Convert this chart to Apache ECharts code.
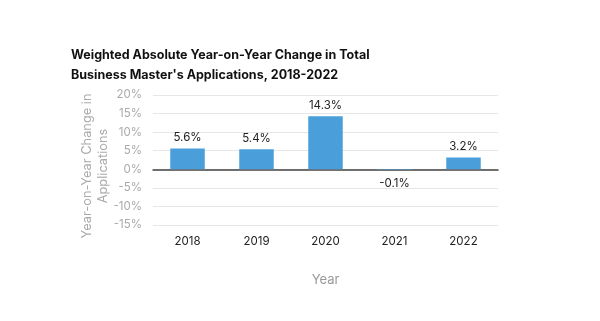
<!DOCTYPE html>
<html><head><meta charset="utf-8">
<script src="https://cdn.jsdelivr.net/npm/echarts@6/dist/echarts.min.js"></script>
<style>html,body{margin:0;padding:0;background:#fff}#c{width:600px;height:321px}</style>
</head><body><div id="c"></div>
<script>
const categories = ['2018','2019','2020','2021','2022'];
const values = [5.6, 5.4, 14.3, -0.1, 3.2];
const yTicks = { min: -15, max: 20, interval: 5 };

const chart = echarts.init(document.getElementById('c'), null, {renderer:'canvas'});
chart.setOption({
  animation: false,
  backgroundColor: '#fff',
  title: {
    text: "Weighted Absolute Year-on-Year Change in Total\nBusiness Master's Applications, 2018-2022",
    left: 66, top: 40,
    textStyle: { fontFamily: 'Inter', fontWeight: 'bold', fontSize: 12.5, color: '#111', lineHeight: 20 }
  },
  grid: { left: 153, right: 102, top: 95, bottom: 96 },
  xAxis: {
    type: 'category', data: categories,
    name: 'Year', nameLocation: 'middle', nameGap: 49,
    nameTextStyle: { fontFamily: 'Inter', fontSize: 13, color: '#999' },
    axisLine: { onZero: true, lineStyle: { color: '#444', width: 1.5 } },
    axisTick: { show: false },
    axisLabel: { fontFamily: 'Inter', fontSize: 11.5, color: '#222', margin: 11 },
    position: 'bottom'
  },
  yAxis: {
    type: 'value', min: yTicks.min, max: yTicks.max, interval: yTicks.interval,
    name: 'Year-on-Year Change in\nApplications', nameLocation: 'middle', nameGap: 42,
    nameMoveOverlap: false,
    nameTextStyle: { fontFamily: 'Inter', fontSize: 12.8, color: '#aaa', lineHeight: 16, padding: [0, 12, 0, 0] },
    axisLabel: { fontFamily: 'Inter', fontSize: 11.5, color: '#aaa', formatter: '{value}%', margin: 11 },
    splitLine: { lineStyle: { color: '#e6e6e6' } },
    axisLine: { show: false }, axisTick: { show: false }
  },
  series: [{
    type: 'bar',
    data: values.map(v => ({ value: v, label: { position: v < 0 ? 'bottom' : 'top', distance: v < 0 ? 8 : 5 } })),
    barWidth: '50%',
    itemStyle: { color: '#4a9fdb' },
    label: { show: true, formatter: p => p.value + '%', fontFamily: 'Inter', fontSize: 11.5, color: '#222' }
  }]
});
</script></body></html>
